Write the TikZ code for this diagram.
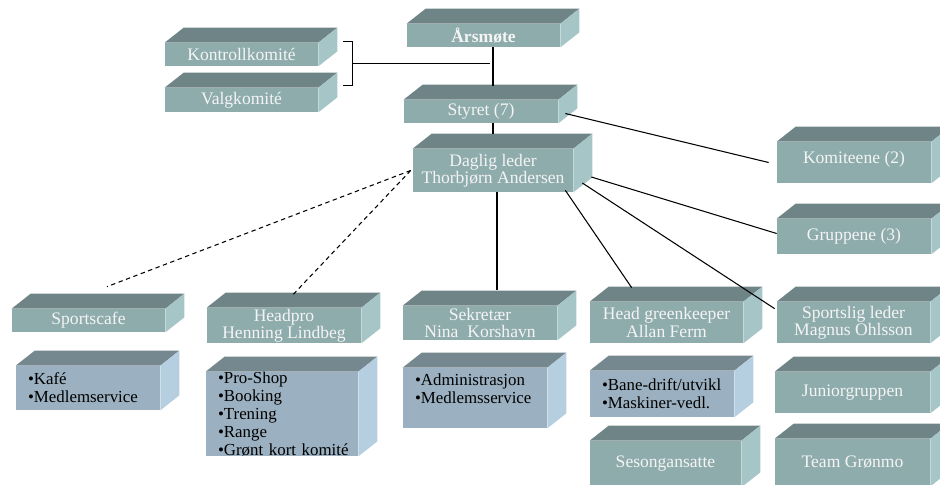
\documentclass[tikz,border=0pt]{standalone}
\usepackage{fontspec}
\setmainfont{Liberation Serif}
\usetikzlibrary{calc}

\definecolor{tealfront}{HTML}{8FACAD}
\definecolor{tealtop}{HTML}{6F8486}
\definecolor{tealside}{HTML}{A6C5C7}
\definecolor{bluefront}{HTML}{9BB0C0}
\definecolor{bluetop}{HTML}{76888F}
\definecolor{blueside}{HTML}{B5CFE0}
\definecolor{boxtext}{HTML}{F4F4F4}

\tikzset{
  tealbox/.style 2 args={fill=tealfront, text=boxtext, minimum width=#1cm, minimum height=#2cm,
    inner sep=0pt, align=center, font=\fontsize{10}{9.8}\selectfont},
  bluebox/.style 2 args={fill=bluefront, text=black, text width=#1cm, minimum height=#2cm,
    inner xsep=0.24cm, inner ysep=0pt, align=left, font=\fontsize{9.6}{10.2}\selectfont},
  link/.style={line width=0.6pt},
}

\begin{document}
\begin{tikzpicture}[x=0.02cm, y=-0.02cm]
    \useasboundingbox (0,0) rectangle (940,484);

    % top of the tree
    \node[tealbox={3.06}{0.46}] (aarsmote) at (483.5,35.5) {\textbf{Årsmøte}};
    \node[tealbox={3.06}{0.46}] (kontroll) at (241.5,54.5) {Kontrollkomité};
    \node[tealbox={3.06}{0.48}] (valg) at (241.5,100) {Valgkomité};
    \node[tealbox={3.08}{0.46}] (styret) at (481,111.5) {Styret (7)};
    \node[tealbox={3.2}{0.86}] (daglig) at (493,170.5) {Daglig leder\\Thorbjørn Andersen};
    \node[tealbox={3.08}{0.82}] (komiteene) at (854,162.5) {Komiteene (2)\\[-4pt]};
    \node[tealbox={3.08}{0.7}] (gruppene) at (854,236.5) {Gruppene (3)};

    % second row
    \node[tealbox={3.06}{0.46}] (sportscafe) at (88.5,320.5) {Sportscafe};
    \node[tealbox={3.08}{0.7}] (headpro) at (284,325.5) {Headpro\\Henning Lindbeg};
    \node[tealbox={3.08}{0.68}] (sekretar) at (480,323) {Sekretær\\Nina\ \ Korshavn};
    \node[tealbox={3.06}{0.82}] (hgk) at (666.5,322.5) {Head greenkeeper\\Allan Ferm};
    \node[tealbox={3.06}{0.82}] (sportslig) at (853.5,322.5) {Sportslig leder\\Magnus Ohlsson};

    % lists and groups
    \node[bluebox={2.4}{0.88}] (kafe) at (88,388) {•Kafé\\•Medlemservice};
    \node[bluebox={2.56}{1.68}] (proshop) at (282,414) {•Pro-Shop\\•Booking\\•Trening\\•Range\\\mbox{•Grønt kort komité}};
    \node[bluebox={2.4}{1.2}] (admin) at (475,398) {•Administrasjon\\•Medlemsservice\\\mbox{}};
    \node[bluebox={2.4}{0.92}] (bane) at (662,394) {•Bane-drift/utvikl\\•Maskiner-vedl.};
    \node[tealbox={3.1}{0.82}] (junior) at (852.5,392.5) {Juniorgruppen};
    \node[tealbox={3.02}{0.92}] (sesong) at (665.5,464) {Sesongansatte};
    \node[tealbox={3.1}{0.94}] (team) at (852.5,462.5) {Team Grønmo};

    % top and side faces
    \foreach \n in {aarsmote,kontroll,valg,styret,daglig,komiteene,gruppene,sportscafe,
                    headpro,sekretar,hgk,sportslig,junior,sesong,team} {
        \fill[tealtop] (\n.north west) -- ++(19,-15) -- ([shift={(19,-15)}]\n.north east) -- (\n.north east) -- cycle;
        \fill[tealside] (\n.north east) -- ++(19,-15) -- ([shift={(19,-15)}]\n.south east) -- (\n.south east) -- cycle;
    }
    \foreach \n in {kafe,proshop,admin,bane} {
        \fill[bluetop] (\n.north west) -- ++(19,-15) -- ([shift={(19,-15)}]\n.north east) -- (\n.north east) -- cycle;
        \fill[blueside] (\n.north east) -- ++(19,-15) -- ([shift={(19,-15)}]\n.south east) -- (\n.south east) -- cycle;
    }

    % connectors
    \draw[link] (aarsmote.south -| daglig.north) -- ($(styret.north -| daglig.north)+(0,-14)$);
    \draw[link] (styret.south -| daglig.north) -- ($(daglig.north)+(0,-15)$);
    \draw[link] ($(kontroll.north east)+(25,-1)$) -| ($(valg.north east)+(34,-2)$) -- ++(-9,0);
    \draw[link] ($(kontroll.north east)!0.5!(valg.north east)+(34,-2)$) coordinate (brmid)
        -- ($(brmid -| daglig.north)+(-3,0)$);
    \draw[link] ($(styret.east)+(7,2)$) -- ($(komiteene.west)+(-8,0)$);
    \draw[link] ($(daglig.east)+(18,6.5)$) -- ($(gruppene.west)+(0,-3)$);
    \draw[link] ($(daglig.east)+(9,12.5)$) -- ($(sportslig.north west)+(-2,7)$);
    \draw[link] ($(daglig.south east)+(-8,-2)$) -- ($(hgk.north west)+(42,-14)$);
    \draw[link] ($(daglig.south)+(4,0)$) -- ($(sekretar.north)+(17,-16)$);
    \draw[link, dash pattern=on 2.5pt off 2pt] ($(daglig.west)+(-2,0)$) -- ($(sportscafe.north)+(18.5,-22)$);
    \draw[link, dash pattern=on 2.5pt off 2pt] ($(daglig.west)+(-2,0)$) -- ($(headpro.north)+(9,-13)$);
\end{tikzpicture}
\end{document}
